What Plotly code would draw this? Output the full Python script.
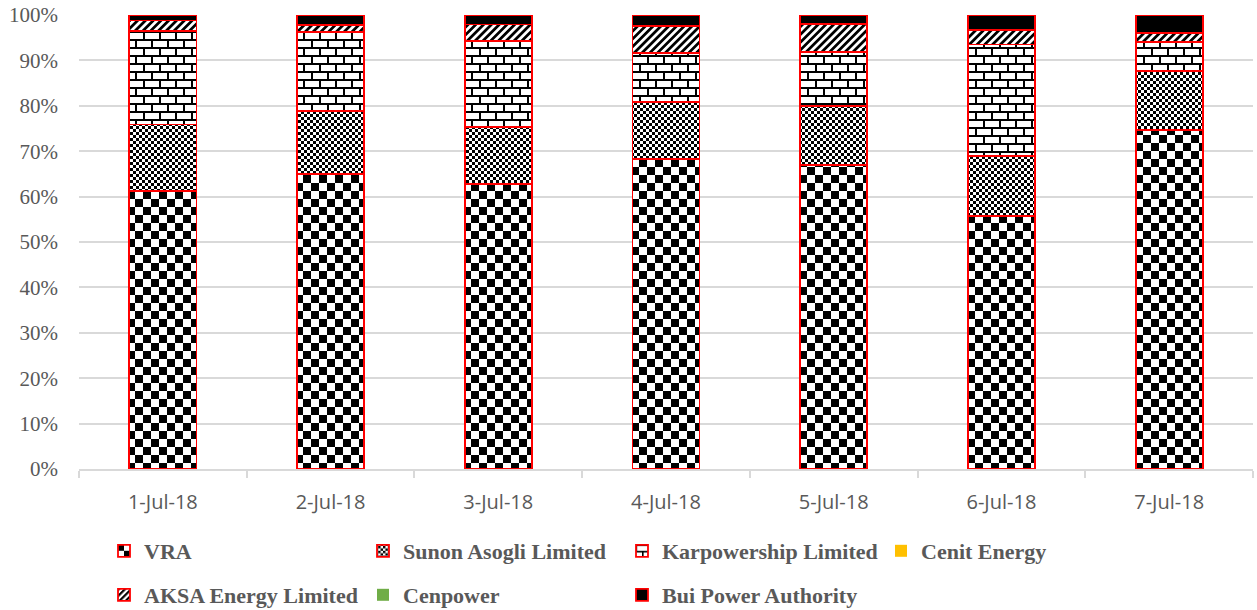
import plotly.graph_objects as go

dates = ["1-Jul-18", "2-Jul-18", "3-Jul-18", "4-Jul-18", "5-Jul-18", "6-Jul-18", "7-Jul-18"]

vra = [61.3, 65.0, 62.7, 68.2, 66.9, 55.7, 74.7]
sunon = [14.6, 13.9, 12.7, 12.7, 13.1, 13.4, 13.0]
karpower = [20.6, 17.3, 18.9, 10.8, 11.8, 24.5, 6.3]
cenit = [0, 0, 0, 0, 0, 0, 0]
aksa = [2.3, 1.6, 3.6, 5.9, 6.3, 3.2, 2.0]
cenpower = [0, 0, 0, 0, 0, 0, 0]
bui = [1.2, 2.2, 2.1, 2.4, 1.9, 3.3, 4.0]

GRAY = "#595959"
GRID = "#d9d9d9"
RED = "#ff0000"

fig = go.Figure()

def add(name, vals, uid, legend, pattern=None, color="black", edge=True):
    marker = dict(color=color,
                  line=dict(color=RED if edge else color, width=1.8 if edge else 0))
    if pattern:
        marker["pattern"] = pattern
    fig.add_trace(go.Bar(name=name, x=dates, y=vals, uid=uid, marker=marker,
                         legend=legend))

add("VRA", vra, "uVRA", "legend",
    dict(shape="+", fgcolor="black", bgcolor="white", size=16, solidity=0.5))
add("Sunon Asogli Limited", sunon, "uSUN", "legend",
    dict(shape="x", fgcolor="black", bgcolor="white", size=6, solidity=0.5))
add("Karpowership Limited", karpower, "uKAR", "legend",
    dict(shape="-", fgcolor="black", bgcolor="white", size=8, solidity=0.25))
add("Cenit Energy", cenit, "uCEN", "legend", color="#ffc000", edge=False)
add("AKSA Energy Limited", aksa, "uAKS", "legend2",
    dict(shape="/", fgcolor="black", bgcolor="white", size=8, solidity=0.5))
add("Cenpower", cenpower, "uCPW", "legend2", color="#70ad47", edge=False)
add("Bui Power Authority", bui, "uBUI", "legend2", color="black")

legend_common = dict(
    orientation="h",
    xref="container", yref="container",
    xanchor="left", yanchor="middle",
    entrywidth=214, entrywidthmode="pixels",
    font=dict(family="Liberation Serif", size=22, color=GRAY, weight="bold"),
    bgcolor="rgba(0,0,0,0)",
    traceorder="normal",
)

fig.update_layout(
    width=1257, height=610,
    margin=dict(l=79, r=4, t=15, b=141),
    paper_bgcolor="white", plot_bgcolor="white",
    barmode="stack", barnorm="percent", bargap=0.6,
    showlegend=True,
    legend=dict(legend_common, x=104 / 1257, y=1 - 551 / 610),
    legend2=dict(legend_common, x=104 / 1257, y=1 - 595 / 610),
    xaxis=dict(
        showline=True, linecolor=GRID, linewidth=1.5,
        ticks="outside", tickson="boundaries", ticklen=7, tickcolor=GRID, tickwidth=1.5,
        tickfont=dict(family="Open Sans", size=20, color=GRAY),
        ticklabelstandoff=14,
        showgrid=False,
    ),
    yaxis=dict(
        range=[0, 100], dtick=10, ticksuffix="%",
        showgrid=True, gridcolor=GRID, gridwidth=1.5,
        zeroline=False, showline=False,
        tickfont=dict(family="Liberation Serif", size=21, color=GRAY),
        ticks="", ticklabelstandoff=20,
    ),
)

post = """
document.documentElement.style.margin='0';
document.body.style.margin='0';
document.body.style.padding='0';
var gd = document.getElementById('{plot_id}');
function fixPatterns(){
  var defs = {
    'uVRA': [16,16,'<rect width="16" height="16" fill="white"/><rect x="0" y="0" width="8" height="8" fill="black"/><rect x="8" y="8" width="8" height="8" fill="black"/>', ''],
    'uSUN': [6,6,'<rect width="6" height="6" fill="white"/><rect x="0" y="0" width="3" height="3" fill="black"/><rect x="3" y="3" width="3" height="3" fill="black"/>', ''],
    'uKAR': [16,16,'<rect width="16" height="16" fill="white"/><rect x="0" y="0" width="16" height="2" fill="black"/><rect x="0" y="8" width="16" height="2" fill="black"/><rect x="0" y="0" width="2" height="8" fill="black"/><rect x="8" y="8" width="2" height="8" fill="black"/>', ''],
    'uAKS': [5.5,5.5,'<rect width="5.5" height="5.5" fill="white"/><rect x="0" y="0" width="2.75" height="5.5" fill="black"/>', 'rotate(45)']
  };
  document.querySelectorAll('pattern').forEach(function(p){
    for (var k in defs){
      if (p.id.indexOf(k) >= 0){
        var d = defs[k];
        p.setAttribute('width', d[0]);
        p.setAttribute('height', d[1]);
        var isLeg = p.id.indexOf('legend') >= 0 || (p.getAttribute('patternTransform') || '').indexOf('scale') >= 0;
        var tr = (isLeg ? 'scale(0.8) ' : '') + d[3];
        if (tr.trim()) { p.setAttribute('patternTransform', tr.trim()); } else { p.removeAttribute('patternTransform'); }
        p.innerHTML = d[2];
      }
    }
  });
}
fixPatterns();
if (gd && gd.on) { gd.on('plotly_afterplot', fixPatterns); }
setTimeout(fixPatterns, 50);
setTimeout(fixPatterns, 300);
"""

fig.write_html("out.html", post_script=post, config={"displayModeBar": False})
